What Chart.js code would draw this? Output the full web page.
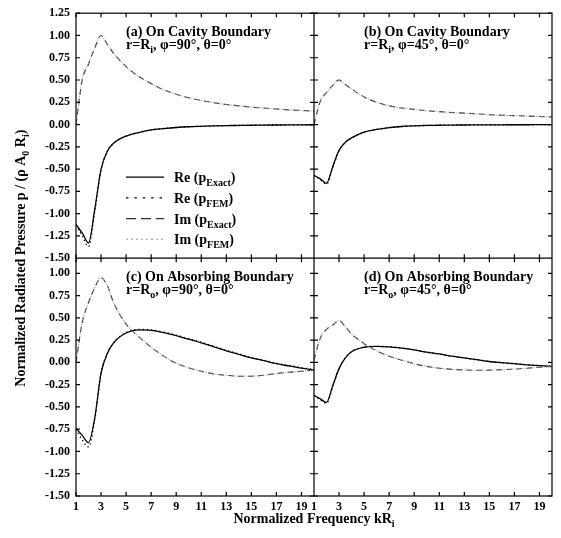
<!DOCTYPE html>
<html>
<head>
<meta charset="utf-8">
<script src="https://cdn.jsdelivr.net/npm/chart.js@4.4.0/dist/chart.umd.min.js"></script>
<style>
  html, body { margin: 0; padding: 0; background: #fff; }
  #js--chart { display: block; }
</style>
</head>
<body>
<canvas id="js--chart" width="561" height="538"></canvas>
<script>
// normalized frequency kRi (sample points)
const kr = [1, 1.5, 2, 2.5, 3, 3.5, 4, 5, 6, 7, 8, 9, 10, 11, 12, 13, 14, 15, 16, 17, 18, 19, 20];

// (a) cavity boundary, phi = 90
const reA    = [-1.12, -1.22, -1.33, -0.95, -0.50, -0.30, -0.21, -0.13, -0.09, -0.06, -0.045, -0.033, -0.025, -0.02, -0.015, -0.012, -0.01, -0.008, -0.006, -0.005, -0.004, -0.003, -0.002];
const reFemA = [-1.13, -1.25, -1.37, -0.97, -0.51, -0.30, -0.21, -0.13, -0.09, -0.06, -0.045, -0.033, -0.025, -0.02, -0.015, -0.012, -0.01, -0.008, -0.006, -0.005, -0.004, -0.003, -0.002];
const imA    = [0.0, 0.50, 0.68, 0.86, 1.00, 0.90, 0.80, 0.65, 0.54, 0.46, 0.39, 0.34, 0.30, 0.27, 0.245, 0.225, 0.21, 0.195, 0.185, 0.175, 0.165, 0.158, 0.15];
const imFemA = [0.0, 0.52, 0.69, 0.86, 1.00, 0.90, 0.80, 0.65, 0.54, 0.46, 0.39, 0.34, 0.30, 0.27, 0.245, 0.225, 0.21, 0.195, 0.185, 0.175, 0.165, 0.158, 0.15];

// (b) cavity boundary, phi = 45
const reB    = [-0.57, -0.61, -0.66, -0.47, -0.29, -0.20, -0.15, -0.085, -0.055, -0.035, -0.022, -0.015, -0.01, -0.008, -0.006, -0.005, -0.004, -0.003, -0.003, -0.002, -0.002, -0.001, -0.001];
const reFemB = [-0.57, -0.62, -0.67, -0.48, -0.29, -0.20, -0.15, -0.085, -0.055, -0.035, -0.022, -0.015, -0.01, -0.008, -0.006, -0.005, -0.004, -0.003, -0.003, -0.002, -0.002, -0.001, -0.001];
const imB    = [0.0, 0.26, 0.36, 0.44, 0.50, 0.45, 0.40, 0.31, 0.25, 0.21, 0.185, 0.17, 0.155, 0.145, 0.135, 0.128, 0.12, 0.11, 0.105, 0.10, 0.095, 0.09, 0.085];
const imFemB = [0.0, 0.27, 0.36, 0.44, 0.50, 0.45, 0.40, 0.31, 0.25, 0.21, 0.185, 0.17, 0.155, 0.145, 0.135, 0.128, 0.12, 0.11, 0.105, 0.10, 0.095, 0.09, 0.085];

// (c) absorbing boundary, phi = 90
const reC    = [-0.74, -0.82, -0.90, -0.62, -0.12, 0.10, 0.22, 0.33, 0.365, 0.36, 0.335, 0.30, 0.26, 0.22, 0.175, 0.13, 0.09, 0.05, 0.02, -0.015, -0.04, -0.065, -0.085];
const reFemC = [-0.75, -0.87, -0.95, -0.64, -0.12, 0.10, 0.22, 0.335, 0.37, 0.365, 0.34, 0.305, 0.265, 0.225, 0.18, 0.135, 0.095, 0.055, 0.025, -0.01, -0.035, -0.06, -0.08];
const imC    = [0.0, 0.45, 0.67, 0.84, 0.95, 0.86, 0.67, 0.43, 0.29, 0.17, 0.07, -0.01, -0.06, -0.10, -0.13, -0.145, -0.155, -0.155, -0.145, -0.125, -0.11, -0.10, -0.085];
const imFemC = [0.0, 0.46, 0.67, 0.84, 0.95, 0.86, 0.67, 0.43, 0.29, 0.17, 0.07, -0.01, -0.06, -0.10, -0.13, -0.145, -0.155, -0.155, -0.145, -0.125, -0.11, -0.10, -0.085];

// (d) absorbing boundary, phi = 45
const reD    = [-0.37, -0.41, -0.45, -0.26, -0.07, 0.05, 0.12, 0.17, 0.18, 0.175, 0.16, 0.14, 0.115, 0.095, 0.07, 0.05, 0.03, 0.01, -0.003, -0.015, -0.027, -0.037, -0.046];
const reFemD = [-0.37, -0.42, -0.46, -0.27, -0.07, 0.05, 0.12, 0.17, 0.18, 0.175, 0.16, 0.14, 0.115, 0.095, 0.07, 0.05, 0.03, 0.01, -0.003, -0.015, -0.027, -0.037, -0.046];
const imD    = [0.03, 0.27, 0.37, 0.42, 0.47, 0.40, 0.32, 0.21, 0.13, 0.07, 0.025, -0.015, -0.045, -0.065, -0.078, -0.085, -0.088, -0.087, -0.082, -0.075, -0.065, -0.055, -0.046];
const imFemD = [0.03, 0.28, 0.37, 0.42, 0.47, 0.40, 0.32, 0.21, 0.13, 0.07, 0.025, -0.015, -0.045, -0.065, -0.078, -0.085, -0.088, -0.087, -0.082, -0.075, -0.065, -0.055, -0.046];

// tick labels
const xTicks = [1, 3, 5, 7, 9, 11, 13, 15, 17, 19];
const yTicksTop = [-1.5, -1.25, -1, -0.75, -0.5, -0.25, 0, 0.25, 0.5, 0.75, 1, 1.25];
const yTicksBottom = [-1.5, -1.25, -1, -0.75, -0.5, -0.25, 0, 0.25, 0.5, 0.75, 1];

const panelTitles = [
    ["(a) On Cavity Boundary", ["r=R", {sub: "i"}, ", \u03c6=90\u00b0, \u03b8=0\u00b0"]],
    ["(b) On Cavity Boundary", ["r=R", {sub: "i"}, ", \u03c6=45\u00b0, \u03b8=0\u00b0"]],
    ["(c) On Absorbing Boundary", ["r=R", {sub: "o"}, ", \u03c6=90\u00b0, \u03b8=0\u00b0"]],
    ["(d) On Absorbing Boundary", ["r=R", {sub: "o"}, ", \u03c6=45\u00b0, \u03b8=0\u00b0"]]
];

const SERIF = '"Liberation Serif", "Times New Roman", serif';

// line styles: Re exact, Re FEM, Im exact, Im FEM
const styles = {
    reExact: {borderColor: "#000", borderWidth: 1.3, borderDash: []},
    reFem: {borderColor: "#000", borderWidth: 1.4, borderDash: [1.2, 3]},
    imExact: {borderColor: "#333", borderWidth: 1.1, borderDash: [6, 4]},
    imFem: {borderColor: "#999", borderWidth: 1.1, borderDash: [1, 1.5]}
};

const legendItems = [
    [styles.reExact, ["Re (p", {sub: "Exact"}, ")"]],
    [styles.reFem, ["Re (p", {sub: "FEM"}, ")"]],
    [styles.imExact, ["Im (p", {sub: "Exact"}, ")"]],
    [styles.imFem, ["Im (p", {sub: "FEM"}, ")"]]
];

const makeSet = (values, style, xAxisID, yAxisID) => ({
    data: values.map((v, i) => ({x: kr[i], y: v})),
    xAxisID: xAxisID,
    yAxisID: yAxisID,
    borderColor: style.borderColor,
    borderWidth: style.borderWidth,
    borderDash: style.borderDash,
    pointRadius: 0,
    fill: false,
    cubicInterpolationMode: "monotone"
});

const panels = [
    {x: "xL", y: "yT", re: reA, reFem: reFemA, im: imA, imFem: imFemA},
    {x: "xR", y: "yT", re: reB, reFem: reFemB, im: imB, imFem: imFemB},
    {x: "xL", y: "yB", re: reC, reFem: reFemC, im: imC, imFem: imFemC},
    {x: "xR", y: "yB", re: reD, reFem: reFemD, im: imD, imFem: imFemD}
];

const datasets = [];
panels.forEach(p => {
    datasets.push(makeSet(p.imFem, styles.imFem, p.x, p.y));
    datasets.push(makeSet(p.im, styles.imExact, p.x, p.y));
    datasets.push(makeSet(p.reFem, styles.reFem, p.x, p.y));
    datasets.push(makeSet(p.re, styles.reExact, p.x, p.y));
});

// text with subscripts
const partsWidth = (ctx, parts, size) => {
    let w = 0;
    parts.forEach(part => {
        if (typeof part === "string") {
            ctx.font = "bold " + size + "px " + SERIF;
            w += ctx.measureText(part).width;
        } else {
            ctx.font = "bold " + Math.round(size * 0.68) + "px " + SERIF;
            w += ctx.measureText(part.sub).width;
        }
    });
    return w;
};

const drawParts = (ctx, parts, x, y, size) => {
    ctx.textAlign = "left";
    ctx.textBaseline = "alphabetic";
    ctx.fillStyle = "#000";
    parts.forEach(part => {
        if (typeof part === "string") {
            ctx.font = "bold " + size + "px " + SERIF;
            ctx.fillText(part, x, y);
            x += ctx.measureText(part).width;
        } else {
            ctx.font = "bold " + Math.round(size * 0.68) + "px " + SERIF;
            ctx.fillText(part.sub, x, y + size * 0.28);
            x += ctx.measureText(part.sub).width;
        }
    });
};

const framePlugin = {
    id: "frame",
    afterDraw(chart) {
        const ctx = chart.ctx;
        const {xL, xR, yT, yB} = chart.scales;
        const L = xL.left, M = xL.right, R = xR.right;
        const T = yT.top, D = yT.bottom, B = yB.bottom;
        const tk = 4;

        ctx.save();
        ctx.strokeStyle = "#000";
        ctx.lineWidth = 1.2;
        ctx.setLineDash([]);
        ctx.strokeRect(L, T, R - L, B - T);
        ctx.beginPath();
        ctx.moveTo(M, T); ctx.lineTo(M, B);
        ctx.moveTo(L, D); ctx.lineTo(R, D);
        [xL, xR].forEach(s => {
            xTicks.forEach(v => {
                const px = s.getPixelForValue(v);
                ctx.moveTo(px, T); ctx.lineTo(px, T + tk);
                ctx.moveTo(px, D - tk); ctx.lineTo(px, D + tk);
                ctx.moveTo(px, B); ctx.lineTo(px, B - tk);
            });
        });
        [yT, yB].forEach(s => {
            s.ticks.forEach(t => {
                const py = s.getPixelForValue(t.value);
                ctx.moveTo(L, py); ctx.lineTo(L + tk, py);
                ctx.moveTo(M - tk, py); ctx.lineTo(M + tk, py);
                ctx.moveTo(R, py); ctx.lineTo(R - tk, py);
            });
        });
        ctx.stroke();

        // panel titles
        const corners = [[L, T], [M, T], [L, D], [M, D]];
        panelTitles.forEach((t, i) => {
            const [px, py] = corners[i];
            drawParts(ctx, [t[0]], px + 50, py + 23, 14);
            drawParts(ctx, t[1], px + 50, py + 36, 14);
        });

        // legend in panel (a)
        legendItems.forEach((item, i) => {
            const ly = T + 164 + i * 20.7;
            ctx.beginPath();
            ctx.strokeStyle = item[0].borderColor;
            ctx.lineWidth = item[0].borderWidth;
            ctx.setLineDash(item[0].borderDash.length ? (i === 2 ? [10, 5] : item[0].borderDash.map(d => d * 2)) : []);
            ctx.moveTo(L + 50, ly);
            ctx.lineTo(L + 88, ly);
            ctx.stroke();
            drawParts(ctx, item[1], L + 98, ly + 5, 14);
        });
        ctx.setLineDash([]);

        // axis titles
        const xTitle = ["Normalized Frequency kR", {sub: "i"}];
        const xw = partsWidth(ctx, xTitle, 14);
        drawParts(ctx, xTitle, (L + R) / 2 - xw / 2, 523, 14);

        const yTitle = ["Normalized Radiated Pressure p / (\u03c1 A", {sub: "0"}, " R", {sub: "i"}, ")"];
        const yw = partsWidth(ctx, yTitle, 14);
        ctx.translate(25, D);
        ctx.rotate(-Math.PI / 2);
        drawParts(ctx, yTitle, -yw / 2, 0, 14);
        ctx.restore();
    }
};

const tickFont = {family: SERIF, size: 12, weight: "bold"};

const xScale = () => ({
    type: "linear",
    position: "bottom",
    stack: "x",
    stackWeight: 1,
    min: 1,
    max: 20,
    afterBuildTicks: s => { s.ticks = xTicks.map(v => ({value: v})); },
    afterFit: s => { s.height = 42; },
    grid: {display: false, drawTicks: false},
    border: {display: false},
    ticks: {color: "#000", font: tickFont, padding: 4, autoSkip: false, maxRotation: 0}
});

const yScale = (max, weight, list) => ({
    type: "linear",
    position: "left",
    stack: "y",
    stackWeight: weight,
    min: -1.5,
    max: max,
    afterBuildTicks: s => { s.ticks = list.map(v => ({value: v})); },
    afterFit: s => { s.width = 76; },
    grid: {display: false, drawTicks: false},
    border: {display: false},
    ticks: {
        color: "#000",
        font: tickFont,
        padding: 6,
        autoSkip: false,
        callback: v => v.toFixed(2)
    }
});

const config = {
    type: "line",
    data: {datasets: datasets},
    options: {
        responsive: false,
        animation: false,
        layout: {padding: {top: 13, right: 9, left: 0, bottom: 0}},
        plugins: {legend: {display: false}, tooltip: {enabled: false}},
        scales: {
            xL: xScale(),
            xR: xScale(),
            yB: yScale(1.17, 2.67, yTicksBottom),
            yT: yScale(1.25, 2.75, yTicksTop)
        }
    },
    plugins: [framePlugin]
};

const radiatedChart = new Chart(document.getElementById("js--chart"), config);
</script>
</body>
</html>
